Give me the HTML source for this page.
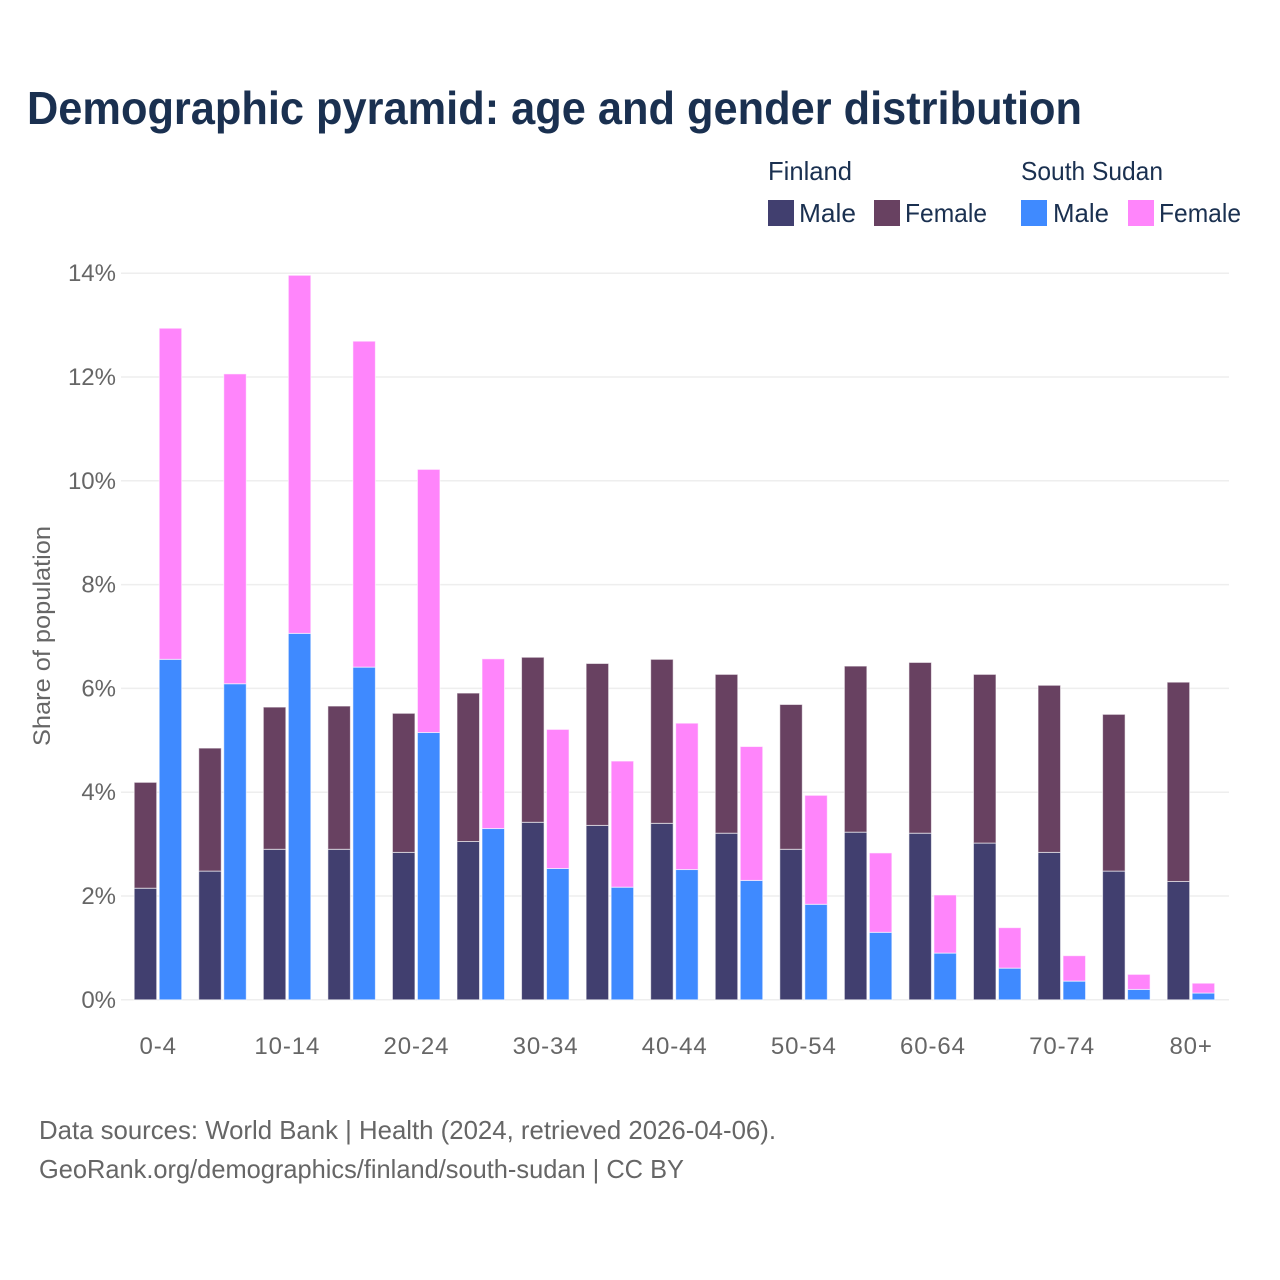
<!DOCTYPE html>
<html lang="en">
<head>
<meta charset="utf-8">
<title>Demographic pyramid: age and gender distribution</title>
<style>
html,body{margin:0;padding:0;background:#fff;}
svg{display:block;font-family:"Liberation Sans",sans-serif;}
</style>
</head>
<body>
<svg id="chart" xmlns="http://www.w3.org/2000/svg" width="1280" height="1280" viewBox="0 0 1280 1280">
  <rect width="1280" height="1280" fill="#ffffff"/>
  <text x="27" y="124" font-size="46" font-weight="700" fill="#1a3050" textLength="1055" lengthAdjust="spacingAndGlyphs">Demographic pyramid: age and gender distribution</text>
  <g font-size="26" fill="#1a3050">
    <text x="768" y="180" textLength="84" lengthAdjust="spacingAndGlyphs">Finland</text>
    <text x="1021" y="180" textLength="142" lengthAdjust="spacingAndGlyphs">South Sudan</text>
    <rect x="768" y="200" width="26" height="26" fill="#413f6f"/>
    <text x="799" y="222" textLength="57" lengthAdjust="spacingAndGlyphs">Male</text>
    <rect x="874" y="200" width="26" height="26" fill="#684161"/>
    <text x="905" y="222" textLength="82" lengthAdjust="spacingAndGlyphs">Female</text>
    <rect x="1021" y="200" width="26" height="26" fill="#3f8aff"/>
    <text x="1053" y="222" textLength="56" lengthAdjust="spacingAndGlyphs">Male</text>
    <rect x="1128" y="200" width="26" height="26" fill="#ff85fb"/>
    <text x="1159" y="222" textLength="82" lengthAdjust="spacingAndGlyphs">Female</text>
  </g>
  <g id="grid"></g>
  <g id="bars"></g>
  <g id="yticks" font-size="24" fill="#666666"></g>
  <g id="xticks" font-size="24" fill="#666666"></g>
  <text transform="translate(50,636) rotate(-90)" text-anchor="middle" font-size="24" fill="#666666" textLength="220" lengthAdjust="spacingAndGlyphs">Share of population</text>
  <text x="39" y="1139" font-size="26" fill="#666666" textLength="737" lengthAdjust="spacingAndGlyphs">Data sources: World Bank | Health (2024, retrieved 2026-04-06).</text>
  <text x="39" y="1178" font-size="26" fill="#666666" textLength="645" lengthAdjust="spacingAndGlyphs">GeoRank.org/demographics/finland/south-sudan | CC BY</text>
</svg>
<script>
const ageGroups = ["0-4","5-9","10-14","15-19","20-24","25-29","30-34","35-39","40-44","45-49","50-54","55-59","60-64","65-69","70-74","75-79","80+"];
const xTickLabels = ["0-4","10-14","20-24","30-34","40-44","50-54","60-64","70-74","80+"];
const yTickValues = [0,2,4,6,8,10,12,14];
const finlandMale = [2.15,2.48,2.90,2.90,2.84,3.05,3.42,3.36,3.40,3.21,2.90,3.23,3.21,3.02,2.84,2.48,2.28];
const finlandFemale = [2.04,2.37,2.74,2.76,2.68,2.86,3.18,3.12,3.16,3.06,2.79,3.20,3.29,3.25,3.22,3.02,3.84];
const southSudanMale = [6.56,6.09,7.06,6.41,5.15,3.30,2.53,2.17,2.51,2.30,1.84,1.30,0.90,0.61,0.36,0.20,0.13];
const southSudanFemale = [6.38,5.97,6.90,6.28,5.07,3.27,2.68,2.43,2.82,2.58,2.10,1.53,1.12,0.78,0.49,0.29,0.19];

const NS = "http://www.w3.org/2000/svg";
const yScale = function (v) { return 999.8 - v * 51.9; };
const xBand = function (i) { return 158.2 + i * 64.56; };
const BAR_W = 22.5;

const gridG = document.getElementById("grid");
const yG = document.getElementById("yticks");
yTickValues.forEach(function (t) {
  const line = document.createElementNS(NS, "line");
  
  
  line.setAttribute("x1", 121);
  line.setAttribute("x2", 1229);
  line.setAttribute("y1", yScale(t));
  line.setAttribute("y2", yScale(t));
  line.setAttribute("stroke", "#eeeeee");
  line.setAttribute("stroke-width", "1.5");
  gridG.appendChild(line);
  const label = document.createElementNS(NS, "text");
  
  
  label.setAttribute("x", 116);
  label.setAttribute("y", yScale(t) + 8);
  label.setAttribute("text-anchor", "end");
  label.textContent = t + "%";
  yG.appendChild(label);
});

const xG = document.getElementById("xticks");
xTickLabels.forEach(function (name) {
  const label = document.createElementNS(NS, "text");
  
  
  label.setAttribute("x", xBand(ageGroups.indexOf(name)));
  label.setAttribute("y", 1054);
  label.setAttribute("text-anchor", "middle");
  label.setAttribute("letter-spacing", "0.9");
  label.textContent = name;
  xG.appendChild(label);
});

const barsG = document.getElementById("bars");
function addBar(name, x, start, value, color) {
  const r = document.createElementNS(NS, "rect");
  
  
  r.setAttribute("x", x);
  r.setAttribute("y", yScale(start + value));
  r.setAttribute("width", BAR_W);
  r.setAttribute("height", yScale(start) - yScale(start + value));
  r.setAttribute("fill", color);
  r.setAttribute("stroke", "#ffffff");
  r.setAttribute("stroke-opacity", "0.6");
  r.setAttribute("stroke-width", "1");
  barsG.appendChild(r);
}
ageGroups.forEach(function (age, i) {
  const c = xBand(i);
  addBar("bar-finland-male-" + age, c - 24, 0, finlandMale[i], "#413f6f");
  addBar("bar-finland-female-" + age, c - 24, finlandMale[i], finlandFemale[i], "#684161");
  addBar("bar-south-sudan-male-" + age, c + 1, 0, southSudanMale[i], "#3f8aff");
  addBar("bar-south-sudan-female-" + age, c + 1, southSudanMale[i], southSudanFemale[i], "#ff85fb");
});
</script>
</body>
</html>
